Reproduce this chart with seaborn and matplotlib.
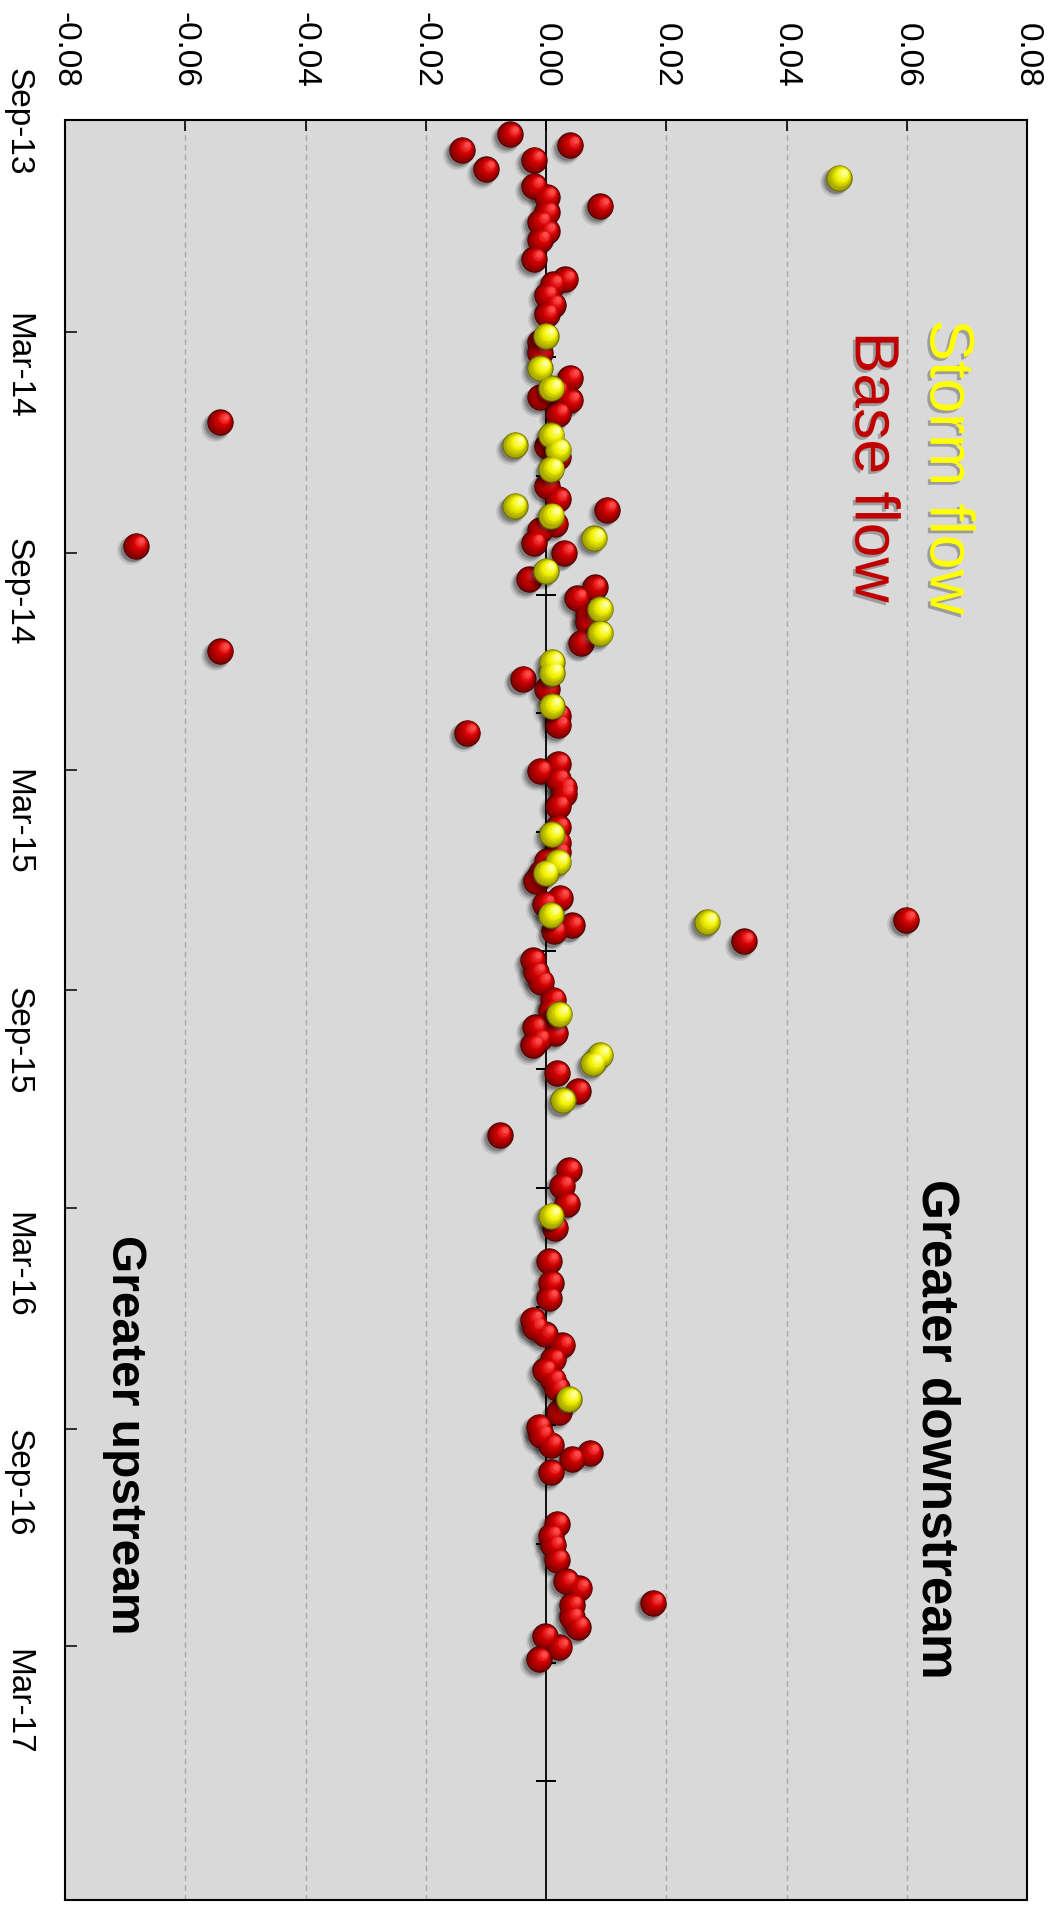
import numpy as np
import pandas as pd
import matplotlib
matplotlib.use("Agg")
import matplotlib.pyplot as plt
import seaborn as sns
import matplotlib.dates as mdates
from matplotlib.ticker import FixedLocator, FixedFormatter, NullFormatter
from matplotlib.transforms import offset_copy
import matplotlib.patheffects as pe
from matplotlib.colors import to_rgb

# ---------------- data ----------------
base_dates = [
    "2013-09-17", "2013-09-26", "2013-09-30", "2013-10-08", "2013-10-16", "2013-10-30",
    "2013-11-08", "2013-11-16", "2013-11-21", "2013-11-29", "2013-12-07", "2013-12-14",
    "2013-12-30", "2014-01-16", "2014-01-20", "2014-01-29", "2014-02-06", "2014-02-14",
    "2014-03-09", "2014-03-18", "2014-04-08", "2014-04-19", "2014-04-24", "2014-04-27",
    "2014-05-08", "2014-05-15", "2014-06-04", "2014-06-13", "2014-07-07", "2014-07-18",
    "2014-07-27", "2014-08-08", "2014-08-13", "2014-08-24", "2014-08-26", "2014-09-01",
    "2014-09-23", "2014-09-30", "2014-10-09", "2014-10-23", "2014-10-29", "2014-11-15",
    "2014-11-22", "2014-12-15", "2014-12-24", "2015-01-15", "2015-01-23", "2015-01-29",
    "2015-02-24", "2015-03-02", "2015-03-09", "2015-03-16", "2015-03-21", "2015-03-31",
    "2015-04-18", "2015-05-01", "2015-05-09", "2015-05-16", "2015-05-26", "2015-05-29",
    "2015-06-02", "2015-06-16", "2015-06-21", "2015-07-04", "2015-07-09", "2015-07-14",
    "2015-07-22", "2015-08-07", "2015-08-17", "2015-08-25", "2015-09-09", "2015-09-18",
    "2015-10-02", "2015-10-07", "2015-10-12", "2015-10-17", "2015-11-09", "2015-11-24",
    "2015-12-31", "2016-01-29", "2016-02-11", "2016-02-26", "2016-03-17", "2016-04-14",
    "2016-05-02", "2016-05-15", "2016-06-02", "2016-06-08", "2016-06-14", "2016-06-23",
    "2016-07-05", "2016-07-14", "2016-07-22", "2016-07-29", "2016-08-18", "2016-08-30",
    "2016-09-06", "2016-09-14", "2016-09-21", "2016-09-26", "2016-10-07", "2016-11-19",
    "2016-11-29", "2016-12-07", "2016-12-19", "2017-01-06", "2017-01-12", "2017-01-24",
    "2017-01-26", "2017-02-05", "2017-02-13", "2017-02-21", "2017-03-02", "2017-03-12",
]
base_values = [
    -0.0060, 0.0040, -0.0140, -0.0020, -0.0100, -0.0020,
    0.0001, 0.0090, 0.0001, -0.0010, 0.0001, -0.0010,
    -0.0020, 0.0032, 0.0011, 0.0001, 0.0011, 0.0001,
    -0.0010, -0.0010, 0.0040, 0.0018, -0.0010, 0.0040,
    0.0020, -0.0542, 0.0001, 0.0020, 0.0001, 0.0020,
    0.0101, 0.0015, -0.0010, -0.0020, -0.0682, 0.0030,
    -0.0029, 0.0081, 0.0051, 0.0070, 0.0070, 0.0059,
    -0.0542, -0.0039, 0.0001, 0.0020, 0.0020, -0.0131,
    0.0020, -0.0010, 0.0020, 0.0030, 0.0030, 0.0020,
    0.0020, 0.0020, 0.0020, 0.0001, -0.0008, -0.0010,
    -0.0017, 0.0023, -0.0002, 0.0599, 0.0043, 0.0014,
    0.0329, -0.0022, -0.0017, -0.0008, 0.0012, 0.0008,
    -0.0018, 0.0015, -0.0012, -0.0022, 0.0018, 0.0053,
    -0.0077, 0.0038, 0.0027, 0.0035, 0.0015, 0.0005,
    0.0008, 0.0005, -0.0022, -0.0018, -0.0002, 0.0027,
    0.0012, -0.0002, 0.0012, 0.0018, 0.0022, -0.0012,
    -0.0008, 0.0008, 0.0073, 0.0043, 0.0008, 0.0018,
    0.0008, 0.0012, 0.0018, 0.0033, 0.0055, 0.0178,
    0.0043, 0.0043, 0.0053, -0.0002, 0.0022, -0.0012,
]
storm_dates = [
    "2013-10-23", "2014-03-04", "2014-03-31", "2014-04-17", "2014-05-26", "2014-06-03",
    "2014-06-07", "2014-06-23", "2014-07-24", "2014-08-01", "2014-08-20", "2014-09-16",
    "2014-10-18", "2014-11-07", "2014-12-01", "2014-12-10", "2015-01-07", "2015-04-24",
    "2015-05-17", "2015-05-26", "2015-06-30", "2015-07-06", "2015-09-21", "2015-10-25",
    "2015-11-01", "2015-12-02", "2016-03-07", "2016-08-07",
]
storm_values = [
    0.0487, 0.0000, -0.0010, 0.0009, 0.0009, -0.0052,
    0.0020, 0.0009, -0.0052, 0.0009, 0.0080, 0.0000,
    0.0090, 0.0090, 0.0010, 0.0010, 0.0010, 0.0010,
    0.0020, 0.0000, 0.0008, 0.0268, 0.0022, 0.0090,
    0.0078, 0.0028, 0.0008, 0.0038,
]

value_ticks = [-0.08, -0.06, -0.04, -0.02, 0.00, 0.02, 0.04, 0.06, 0.08]
value_tick_labels = ["-0.08", "-0.06", "-0.04", "-0.02", "0.00", "0.02", "0.04", "0.06", "0.08"]
date_tick_marks = ["2014-03-01", "2014-09-01", "2015-03-01", "2015-09-01",
                   "2016-03-01", "2016-09-01", "2017-03-01"]
date_label_pos = ["2013-09-06", "2014-03-28", "2014-10-03", "2015-04-13",
                  "2015-10-12", "2016-04-16", "2016-10-15", "2017-04-16"]
date_labels = ["Sep-13", "Mar-14", "Sep-14", "Mar-15", "Sep-15", "Mar-16", "Sep-16", "Mar-17"]
date_range = ["2013-09-05", "2017-09-29"]

# ---------------- style ----------------
sns.set_theme(style="white")
plt.rcParams["font.family"] = ["Liberation Sans", "DejaVu Sans"]

df = pd.concat([
    pd.DataFrame({"date": pd.to_datetime(base_dates), "value": base_values, "flow": "Base flow"}),
    pd.DataFrame({"date": pd.to_datetime(storm_dates), "value": storm_values, "flow": "Storm flow"}),
], ignore_index=True)

W, H = 1052, 1908
fig = plt.figure(figsize=(W / 100, H / 100), dpi=100)
fig.patch.set_facecolor("white")
pos = [65 / W, 1 - 1901 / H, (1027 - 65) / W, (1901 - 121) / H]
ax = fig.add_axes(pos)

top_num = mdates.date2num(pd.Timestamp(date_range[0]))
bot_num = mdates.date2num(pd.Timestamp(date_range[1]))

# background axis carrying the zero line with its 15 tick intervals
bg = ax.twinx()
bg.set_zorder(0)
ax.set_zorder(1)
ax.patch.set_visible(False)
bg.patch.set_visible(True)
bg.patch.set_facecolor("#d9d9d9")
for s in ["top", "bottom", "right"]:
    bg.spines[s].set_visible(False)
bg.spines["left"].set_visible(True)
bg.spines["left"].set_position(("data", 0.0))
bg.spines["left"].set_linewidth(1.3)
bg.spines["left"].set_color("black")
bg.yaxis.set_ticks_position("left")
bg.set_ylim(bot_num, top_num)
bg.yaxis.set_major_locator(FixedLocator(np.linspace(top_num, bot_num, 16)))
bg.yaxis.set_major_formatter(NullFormatter())
bg.tick_params(axis="y", which="major", direction="inout", length=14, width=1.4,
               color="black", left=True, right=False, labelleft=False, labelright=False)

# ---------------- balls ----------------
S = 330
R = np.sqrt(S) / 2  # radius in points


def mix(c1, c2, t):
    a, b = np.array(to_rgb(c1)), np.array(to_rgb(c2))
    return tuple(a + (b - a) * t)


def draw_balls(sub, edge, dark, mid, light, z):
    x = sub["value"].to_numpy()
    y = mdates.date2num(sub["date"])
    # soft drop shadow toward lower-left
    for (dx, sc, al) in [(-3.4, 1.3, 0.10), (-2.8, 1.1, 0.18), (-2.2, 0.95, 0.22)]:
        tr = offset_copy(ax.transData, fig=fig, x=dx, y=dx, units="points")
        ax.scatter(x, y, s=S * sc, color="black", alpha=al, linewidths=0, transform=tr, zorder=z)
    # base sphere via seaborn
    sns.scatterplot(data=sub, x="value", y="date", color=dark, s=S, edgecolor=edge,
                    linewidth=0.8, ax=ax, zorder=z + 0.1, legend=False)
    n = 9
    for i in range(n):
        t = i / (n - 1)
        f = 0.93 - 0.72 * t
        off = (1 - f) * R * 0.55
        if t < 0.5:
            col = mix(dark, mid, t * 2)
        else:
            col = mix(mid, light, (t - 0.5) * 2)
        tr = offset_copy(ax.transData, fig=fig, x=off, y=off, units="points")
        ax.scatter(x, y, s=S * f * f, color=col, linewidths=0, transform=tr, zorder=z + 0.2 + i * 0.01)


base = df[df["flow"] == "Base flow"]
storm = df[df["flow"] == "Storm flow"]
draw_balls(base, "#4a0000", "#8a0000", "#d20000", "#ff4a4a", 3)
draw_balls(storm, "#6b6b00", "#a8a800", "#f2f200", "#ffff9a", 4)

# ---------------- axes ----------------
ax.set_xlim(-0.08, 0.08)
ax.set_ylim(bot_num, top_num)
bg.set_ylim(bot_num, top_num)
ax.set_xlabel("")
ax.set_ylabel("")

ax.xaxis.tick_top()
ax.xaxis.set_major_locator(FixedLocator(value_ticks))
ax.xaxis.set_major_formatter(FixedFormatter(value_tick_labels))
ax.tick_params(axis="x", which="major", direction="in", length=8, width=1.2, color="black",
               top=True, bottom=False, labeltop=True, labelbottom=False, pad=24,
               labelsize=24, labelrotation=-90, labelcolor="black")

ax.yaxis.set_major_locator(FixedLocator(mdates.date2num(pd.to_datetime(date_tick_marks))))
ax.yaxis.set_major_formatter(NullFormatter())
ax.yaxis.set_minor_locator(FixedLocator(mdates.date2num(pd.to_datetime(date_label_pos))))
ax.yaxis.set_minor_formatter(FixedFormatter(date_labels))
ax.tick_params(axis="y", which="major", direction="in", length=8.5, width=1.1, color="black",
               left=True, right=False, labelleft=False)
ax.tick_params(axis="y", which="minor", length=0, left=True, right=False, labelleft=True,
               pad=23, labelsize=24, labelrotation=-90, labelcolor="black")
for lab in ax.get_yminorticklabels():
    lab.set_va("center")

ax.grid(True, axis="x", color="#a8a8a8", linestyle=(0, (4, 3)), linewidth=1.0)
ax.grid(False, axis="y")
fig.canvas.draw()
for tk in ax.xaxis.get_major_ticks():
    if abs(tk.get_loc()) < 1e-9:
        tk.gridline.set_visible(False)

for s in ["top", "bottom", "left", "right"]:
    ax.spines[s].set_visible(True)
    ax.spines[s].set_color("black")
    ax.spines[s].set_linewidth(1.5)

# ---------------- annotations ----------------
shadow = [pe.withSimplePatchShadow(offset=(-2, -2), shadow_rgbFace="#555555", alpha=0.45)]
ax.text(0.917, 0.805, "Storm flow", transform=ax.transAxes, rotation=-90, color="#ffff00",
        fontsize=45, ha="center", va="center", path_effects=shadow, zorder=6)
ax.text(0.839, 0.805, "Base flow", transform=ax.transAxes, rotation=-90, color="#c00000",
        fontsize=45, ha="center", va="center", path_effects=shadow, zorder=6)
ax.text(0.905, 0.265, "Greater downstream", transform=ax.transAxes, rotation=-90,
        color="black", fontsize=37, fontweight="bold", ha="center", va="center", zorder=6)
ax.text(0.062, 0.262, "Greater upstream", transform=ax.transAxes, rotation=-90,
        color="black", fontsize=34.5, fontweight="bold", ha="center", va="center", zorder=6)

fig.savefig("out.png", dpi=100, facecolor="white")
